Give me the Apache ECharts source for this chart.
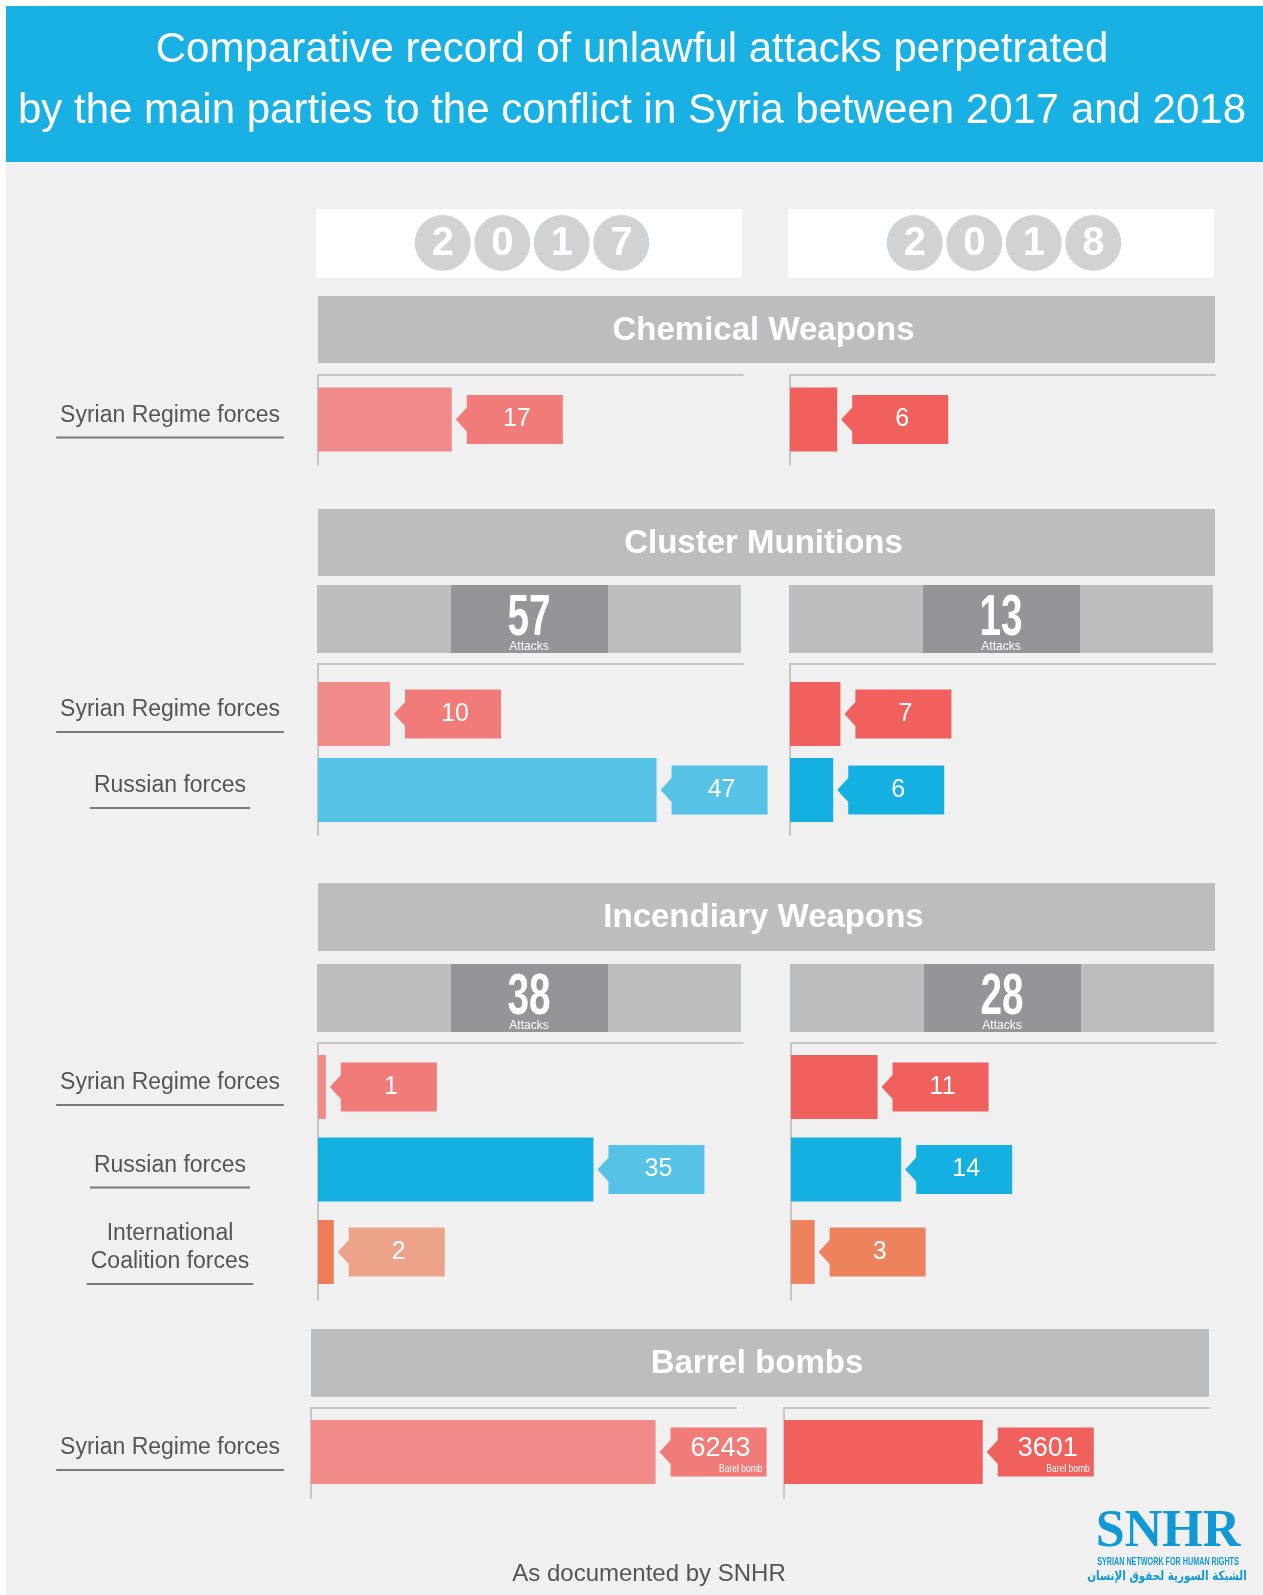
<!DOCTYPE html>
<html>
<head>
<meta charset="utf-8">
<script src="https://cdn.jsdelivr.net/npm/echarts@6/dist/echarts.min.js"></script>
<style>
  body { margin: 0; background: #fff; }
  #main { width: 1263px; height: 1595px; }
</style>
</head>
<body>
<div id="main"></div>
<script>
var years = ['2017', '2018'];
var sectionNames = ['Chemical Weapons', 'Cluster Munitions', 'Incendiary Weapons', 'Barrel bombs'];

var chemParties = ['Syrian Regime forces'];
var chem2017 = [17];
var chem2018 = [6];

var clusterParties = ['Syrian Regime forces', 'Russian forces'];
var cluster2017 = [10, 47];
var cluster2018 = [7, 6];
var clusterTotals = [57, 13];

var incParties = ['Syrian Regime forces', 'Russian forces', 'International\nCoalition forces'];
var inc2017 = [1, 35, 2];
var inc2018 = [11, 14, 3];
var incTotals = [38, 28];

var barrelParties = ['Syrian Regime forces'];
var barrel2017 = [6243];
var barrel2018 = [3601];
var barrelUnit = 'Barel bomb';

var titleLines = ['Comparative record of unlawful attacks perpetrated',
  'by the main parties to the conflict in Syria between 2017 and 2018'];
var sourceText = 'As documented by SNHR';

// styles
var FONT = '"Liberation Sans", Arial, Helvetica, sans-serif';
var RED1 = '#f18b89', RED1T = '#f07b79', RED2 = '#f0605d';
var BLUE1 = '#56c2e6', BLUE2 = '#14b0e1';
var ORG1 = '#ef7c58', ORG1T = '#eda389', ORG2 = '#ec835d';
var AXIS = '#c6c6c6';

var sections = [
  { parties: chemParties, values: [chem2017, chem2018],
    bar: [[RED1], [RED2]], tag: [[RED1T], [RED2]] },
  { parties: clusterParties, values: [cluster2017, cluster2018], totals: clusterTotals,
    bar: [[RED1, BLUE1], [RED2, BLUE2]], tag: [[RED1T, BLUE1], [RED2, BLUE2]] },
  { parties: incParties, values: [inc2017, inc2018], totals: incTotals,
    bar: [[RED1, BLUE2, ORG1], [RED2, BLUE2, ORG2]], tag: [[RED1T, BLUE1, ORG1T], [RED2, BLUE2, ORG2]] },
  { parties: barrelParties, values: [barrel2017, barrel2018], unit: barrelUnit,
    bar: [[RED1], [RED2]], tag: [[RED1T], [RED2]] }
];

// pixel layout of each section
var layout = [
  { head: [318, 296, 897, 67], top: 375, bottom: 465, first: 419.5, step: 80, max: 54, left: [318, 790] },
  { head: [318, 509, 897, 67], band: 585, top: 664, bottom: 835, first: 714, step: 76, max: 59, left: [318, 790] },
  { head: [318, 883, 897, 68], band: 964, top: 1043, bottom: 1300, first: 1087, step: 82.5, max: 54, left: [318, 791] },
  { head: [311, 1329, 898, 68], top: 1408, bottom: 1498, first: 1452, step: 80, max: 7700, left: [311, 784] }
];

var ctx = document.createElement('canvas').getContext('2d');
function textWidth(t, font) {
  ctx.font = font;
  return ctx.measureText(t).width;
}

function makeRender(sec, yi) {
  return function (params, api) {
    var v = api.value(0), row = api.value(1);
    var s = api.coord([0, row]);
    var e = api.coord([v, row]);
    var c = s[1], x0 = s[0], x1 = e[0];
    var h = 64, bx = x1 + 15, bw = 96, bh = 49;
    var kids = [];
    kids.push({ type: 'rect', shape: { x: x0, y: c - h / 2, width: x1 - x0, height: h },
      style: { fill: sec.bar[yi][row] } });
    kids.push({ type: 'polygon', shape: { points: [[x1 + 4, c], [bx, c - 12], [bx, c - bh / 2],
      [bx + bw, c - bh / 2], [bx + bw, c + bh / 2], [bx, c + bh / 2], [bx, c + 12]] },
      style: { fill: sec.tag[yi][row] } });
    kids.push({ type: 'text', x: bx + bw / 2 + 2, y: sec.unit ? c - 3 : c,
      style: { text: String(v), fill: '#fff', font: (sec.unit ? '27px ' : '25px ') + FONT, align: 'center', verticalAlign: 'middle' } });
    if (sec.unit) {
      kids.push({ type: 'text', x: bx + bw - 4, y: c + 17, scaleX: 0.85,
        style: { text: sec.unit, fill: '#fff', font: '10px ' + FONT, align: 'right', verticalAlign: 'middle' } });
    }
    if (yi === 0) {
      var lines = sec.parties[row].split('\n');
      var n = lines.length;
      var lastY = c - 4 + (n - 1) * 14;
      var lf = '23px ' + FONT;
      var wmax = 0;
      lines.forEach(function (t, i) {
        wmax = Math.max(wmax, textWidth(t, lf));
        kids.push({ type: 'text', x: 170, y: lastY - (n - 1 - i) * 28,
          style: { text: t, fill: '#555', font: lf, align: 'center', verticalAlign: 'middle' } });
      });
      var uy = lastY + 22;
      kids.push({ type: 'line', shape: { x1: 170 - wmax / 2 - 4, y1: uy, x2: 170 + wmax / 2 + 4, y2: uy },
        style: { stroke: '#7a7a7a', lineWidth: 2 } });
    }
    return { type: 'group', children: kids };
  };
}

var grids = [], xAxes = [], yAxes = [], series = [];
var graphics = [];

graphics.push({ type: 'rect', shape: { x: 6, y: 6, width: 1257, height: 1589 }, style: { fill: '#f0f0f0' } });
graphics.push({ type: 'rect', shape: { x: 6, y: 6, width: 1257, height: 156 }, style: { fill: '#19b1e3' } });
titleLines.forEach(function (t, i) {
  graphics.push({ type: 'text', x: 632, y: 50 + i * 61,
    style: { text: t, fill: '#fff', font: '42px ' + FONT, align: 'center', verticalAlign: 'middle' } });
});

// year boxes
var yearBox = [316, 788];
years.forEach(function (y, i) {
  graphics.push({ type: 'rect', shape: { x: yearBox[i], y: 209, width: 426, height: 69 }, style: { fill: '#fff' } });
  var cx = yearBox[i] + 216;
  y.split('').forEach(function (d, j) {
    var x = cx + (j - 1.5) * 59.5;
    graphics.push({ type: 'circle', shape: { cx: x, cy: 243, r: 28 }, style: { fill: '#d1d2d4' } });
    graphics.push({ type: 'text', x: x, y: 244,
      style: { text: d, fill: '#fff', font: 'bold 40px ' + FONT, align: 'center', verticalAlign: 'middle' } });
  });
});

sections.forEach(function (sec, si) {
  var L = layout[si];
  graphics.push({ type: 'rect', shape: { x: L.head[0], y: L.head[1], width: L.head[2], height: L.head[3] },
    style: { fill: '#bcbdbf' } });
  graphics.push({ type: 'text', x: L.head[0] + L.head[2] / 2 - 3, y: L.head[1] + L.head[3] / 2 + 1,
    style: { text: sectionNames[si], fill: '#fff', font: 'bold 33px ' + FONT, align: 'center', verticalAlign: 'middle' } });
  for (var yi = 0; yi < 2; yi++) {
    var idx = grids.length;
    if (sec.totals) {
      var bl = L.left[yi] - 1;
      graphics.push({ type: 'rect', shape: { x: bl, y: L.band, width: 424, height: 68 }, style: { fill: '#bcbdbf' } });
      graphics.push({ type: 'rect', shape: { x: bl + 134, y: L.band, width: 157, height: 68 }, style: { fill: '#939598' } });
      graphics.push({ type: 'text', x: bl + 212, y: L.band + 34, scaleX: 0.68,
        style: { text: String(sec.totals[yi]), fill: '#fff', font: 'bold 57px ' + FONT, align: 'center', verticalAlign: 'middle' } });
      graphics.push({ type: 'text', x: bl + 212, y: L.band + 62,
        style: { text: 'Attacks', fill: '#fff', font: '12px ' + FONT, align: 'center', verticalAlign: 'middle' } });
    }
    grids.push({ left: L.left[yi], top: L.top, width: 425, height: L.bottom - L.top });
    xAxes.push({ gridIndex: idx, type: 'value', position: 'top', min: 0, max: L.max,
      axisLine: { show: true, onZero: false, lineStyle: { color: AXIS, width: 2 } },
      axisTick: { show: false }, axisLabel: { show: false }, splitLine: { show: false } });
    yAxes.push({ gridIndex: idx, type: 'value', inverse: true,
      min: -(L.first - L.top) / L.step, max: (L.bottom - L.first) / L.step,
      axisLine: { show: true, onZero: false, lineStyle: { color: AXIS, width: 2 } },
      axisTick: { show: false }, axisLabel: { show: false }, splitLine: { show: false } });
    series.push({ type: 'custom', xAxisIndex: idx, yAxisIndex: idx, clip: false, silent: true,
      renderItem: makeRender(sec, yi),
      data: sec.values[yi].map(function (v, i) { return [v, i]; }) });
  }
});

// footer
graphics.push({ type: 'text', x: 649, y: 1574,
  style: { text: sourceText, fill: '#555', font: '24px ' + FONT, align: 'center', verticalAlign: 'middle' } });
graphics.push({ type: 'text', x: 1168, y: 1533,
  style: { text: 'SNHR', fill: '#1099d6', font: 'bold 52px "Liberation Serif", "DejaVu Serif", serif', align: 'center', verticalAlign: 'middle' } });
graphics.push({ type: 'text', x: 1168, y: 1562, scaleX: 0.72,
  style: { text: 'SYRIAN NETWORK FOR HUMAN RIGHTS', fill: '#1099d6', font: 'bold 10px ' + FONT, align: 'center', verticalAlign: 'middle' } });
graphics.push({ type: 'text', x: 1167, y: 1577, scaleX: 0.8,
  style: { text: 'الشبكة السورية لحقوق الإنسان', fill: '#1099d6', font: 'bold 13px "DejaVu Sans", sans-serif', align: 'center', verticalAlign: 'middle' } });

var chart = echarts.init(document.getElementById('main'));
chart.setOption({
  animation: false,
  graphic: { elements: graphics },
  grid: grids,
  xAxis: xAxes,
  yAxis: yAxes,
  series: series
});
</script>
</body>
</html>
